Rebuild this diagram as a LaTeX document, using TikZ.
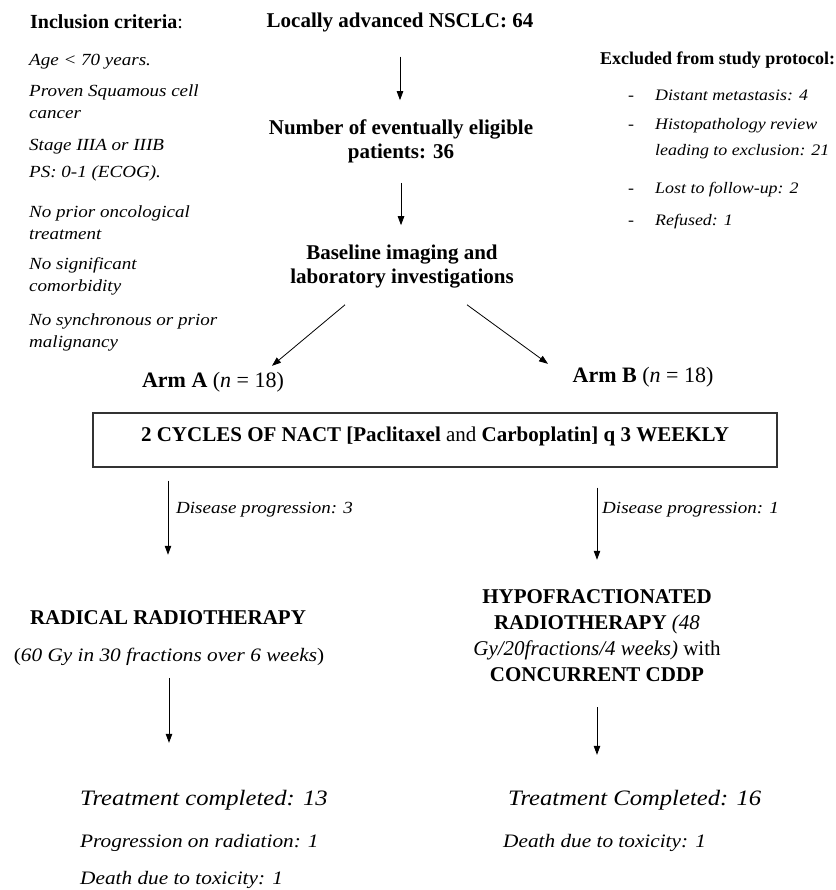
\documentclass[tikz,border=0pt]{standalone}
\usepackage{fontspec}
\setmainfont{Liberation Serif}
\newfontfamily\widefont[FakeStretch=1.12]{Liberation Serif}
\usetikzlibrary{arrows.meta}

\begin{document}
\begin{tikzpicture}[x=1pt, y=-1pt,
		head/.style={font=\bfseries\fontsize{21}{24}\selectfont, inner sep=0pt, align=center},
		crit/.style={font=\widefont\itshape\fontsize{17}{22}\selectfont, inner sep=0pt, anchor=west, align=left},
		outcome/.style={font=\widefont\itshape\fontsize{19}{22}\selectfont, inner sep=0pt, anchor=west},
		arr/.style={-{Triangle[length=9pt,width=6.5pt]}, line width=0.8pt}]
			\useasboundingbox (0,0) rectangle (835,890);
			% inclusion criteria
			\draw (30,22) node [head, anchor=west, font=\bfseries\fontsize{20}{24}\selectfont] (inchead) {Inclusion criteria\mdseries:};
			\draw (29,62) node [crit] (age) {Age < 70 years.};
			\draw (29,101.5) node [crit] (proven) {Proven Squamous cell\\cancer};
			\draw (29,147) node [crit] (stage) {Stage IIIA or IIIB};
			\draw (29,173) node [crit] (ps) {PS: 0-1 (ECOG).};
			\draw (29,222.5) node [crit] (prior) {No prior oncological\\treatment};
			\draw (29,276) node [crit] (comorb) {No significant\\comorbidity};
			\draw (29,332) node [crit] (synchr) {No synchronous or prior\\malignancy};
			% excluded
			\draw (600,60) node [head, anchor=west, font=\bfseries\fontsize{18}{22}\selectfont] (exhead) {Excluded from study protocol:};
			\draw (628,95) node [crit, font=\widefont\itshape\fontsize{16}{22}\selectfont] (meta) {\makebox[27pt][l]{-}Distant metastasis: 4};
			\draw (628,139) node [crit, font=\widefont\itshape\fontsize{16}{26}\selectfont] (histo) {\makebox[27pt][l]{-}Histopathology review\\\hspace*{27pt}leading to exclusion: 21};
			\draw (628,190) node [crit, font=\widefont\itshape\fontsize{16}{22}\selectfont] (lost) {\makebox[27pt][l]{-}Lost to follow-up: 2};
			\draw (628,222) node [crit, font=\widefont\itshape\fontsize{16}{22}\selectfont] (refused) {\makebox[27pt][l]{-}Refused: 1};
			% main flow
			\draw (400,22) node [head] (total) {Locally advanced NSCLC: 64};
			\draw (401,141) node [head] (elig) {Number of eventually eligible\\patients: 36};
			\draw (402,267) node [head] (base) {Baseline imaging and\\laboratory investigations};
			\draw (213,382) node [head, font=\fontsize{22}{24}\selectfont] (armA) {\textbf{Arm A} (\textit{n} = 18)};
			\draw (643,377) node [head, font=\fontsize{22}{24}\selectfont] (armB) {\textbf{Arm B} (\textit{n} = 18)};
			\draw (435,440) node [head, draw=black!80, line width=1.2pt, minimum width=684pt, text height=28pt, text depth=26pt] (nact) {2 CYCLES OF NACT [Paclitaxel {\mdseries and} Carboplatin] q 3 WEEKLY};
			\draw (176,510) node [crit] (prog1) {Disease progression: 3};
			\draw (602,510) node [crit] (prog2) {Disease progression: 1};
			\draw (168,618) node [head] (radical) {RADICAL RADIOTHERAPY};
			\draw (169,657) node [head, font=\widefont\fontsize{19}{22}\selectfont] (radsched) {(\textit{60 Gy in 30 fractions over 6 weeks})};
			\draw (597,636) node [head, font=\bfseries\fontsize{21}{26}\selectfont] (hypo) {HYPOFRACTIONATED\\RADIOTHERAPY {\mdseries\itshape(48}\\{\mdseries\itshape Gy/20fractions/4 weeks)} {\mdseries with}\\CONCURRENT CDDP};
			\draw (80,800) node [outcome, font=\widefont\itshape\fontsize{22}{24}\selectfont] (doneA) {Treatment completed: 13};
			\draw (80,843) node [outcome] (progA) {Progression on radiation: 1};
			\draw (80,880) node [outcome] (deathA) {Death due to toxicity: 1};
			\draw (508,800) node [outcome, font=\widefont\itshape\fontsize{22}{24}\selectfont] (doneB) {Treatment Completed: 16};
			\draw (503,843) node [outcome] (deathB) {Death due to toxicity: 1};
			% arrows
			\draw[arr, shorten <=25pt, shorten >=19pt] (total.south) -- (total.south |- elig.north);
			\draw[arr, shorten <=20pt, shorten >=20pt] (elig.south) -- (elig.south |- base.north);
			\draw[arr] ([xshift=-57pt,yshift=-16pt]base.south) -- ([xshift=59pt,yshift=6pt]armA.north);
			\draw[arr] ([xshift=65pt,yshift=-16pt]base.south) -- ([xshift=-95pt,yshift=3pt]armB.north);
			\draw[arr, shorten <=13pt, shorten >=56pt] (nact.south -| radical.north) -- (radical.north);
			\draw[arr, shorten <=20pt, shorten >=30pt] (nact.south -| hypo.north) -- (hypo.north);
			\draw[arr, shorten <=12pt, shorten >=47pt] (radsched.south) -- (radsched.south |- doneA.north);
			\draw[arr, shorten <=25pt, shorten >=35pt] (hypo.south) -- (hypo.south |- doneB.north);
		\end{tikzpicture}
\end{document}
